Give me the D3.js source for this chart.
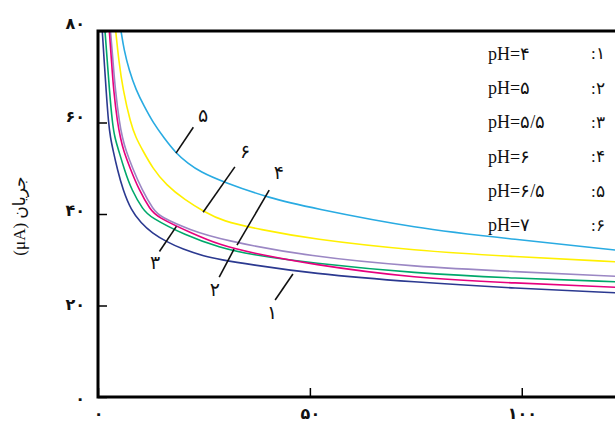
<!DOCTYPE html>
<html><head><meta charset="utf-8">
<script src="https://cdn.jsdelivr.net/npm/d3@7"></script>
<style>
html,body{margin:0;padding:0;background:#fff;}
svg{display:block;}
</style></head>
<body>
<svg id="chart" width="615" height="425"></svg>
<script>
// ---- data: [x, current µA] ----
const curve1 = [[1.01,80],[1.46,73.44],[1.91,67.10],[2.48,59.89],[2.95,56.61],[3.54,53.99],[4.60,49.62],[5.90,45.25],[7.79,40.87],[10.15,38.03],[12.74,35.85],[16.28,33.88],[19.83,32.35],[25.25,30.71],[28.79,30.05],[35.87,28.96],[50.04,27.04],[74.82,25.07],[98.42,23.76],[122.02,22.80]];
const curve2 = [[2.67,80],[3.19,73.44],[3.66,67.10],[4.60,59.89],[5.31,56.61],[5.97,53.99],[7.55,50.05],[9.68,45.25],[12.39,40.87],[13.85,39.41],[22.11,35.78],[28.79,33.22],[35.87,31.58],[50.04,29.03],[74.82,25.95],[98.42,24.92],[122.02,23.98]];
const curve3 = [[1.65,80],[2.19,73.44],[2.69,67.10],[3.38,59.89],[3.98,56.61],[4.84,53.99],[6.25,49.62],[7.91,45.25],[10.69,40.87],[12.27,39.34],[20.53,35.34],[28.79,32.63],[35.87,31.15],[50.04,29.29],[74.82,27.04],[98.42,25.95],[122.02,25.20]];
const curve4 = [[2.95,80],[3.54,73.44],[4.08,67.10],[5.07,59.89],[5.78,56.61],[6.54,53.99],[8.14,50.05],[10.38,45.25],[13.10,40.87],[14.63,39.41],[21.71,36.50],[29.27,34.32],[50.04,30.67],[74.82,28.48],[98.42,27.39],[122.02,26.38]];
const curve5 = [[5.43,80],[6.14,75.85],[7.32,71.48],[8.97,67.10],[10.86,63.61],[13.05,59.89],[15.58,56.61],[18.41,53.27],[21.24,51.04],[24.07,49.25],[29.50,47.00],[40.59,43.43],[50.04,41.42],[74.82,36.87],[98.42,34.47],[122.02,32.13]];
const curve6 = [[4.18,80],[4.91,73.44],[5.90,67.10],[7.67,59.89],[8.97,56.61],[10.50,53.99],[12.86,50.05],[16.05,46.34],[20.53,43.06],[25.02,40.50],[29.27,38.47],[38.23,36.61],[50.04,34.58],[74.82,31.98],[98.42,30.67],[122.02,29.57]];

const seriesIds = ["1","2","3","4","5","6"];
const seriesData = [curve1, curve2, curve3, curve4, curve5, curve6];
const seriesColors = ["#2b3990","#e6007e","#00a86b","#9b87c4","#29abe2","#fff000"];
const legendPH = ["pH=۴","pH=۵","pH=۵/۵","pH=۶","pH=۶/۵","pH=۷"];
const legendNum = [":۱",":۲",":۳",":۴",":۵",":۶"];
const curveLabels = ["۱","۲","۳","۴","۵","۶"];
// label text position and leader line (data units)
const labelPos = [[41.1,18.6],[27.6,23.6],[13.5,29.5],[42.7,49.0],[24.8,61.6],[34.7,53.6]];
const leaderFrom = [[46.0,26.9],[32.1,32.3],[18.5,37.3],[40.4,45.2],[18.4,53.3],[24.8,40.4]];
const leaderTo   = [[41.8,21.2],[28.6,26.2],[14.5,31.8],[32.8,33.2],[22.5,58.95],[32.3,50.3]];

const xTickValues = [0,50,100];
const xTickLabels = ["۰","۵۰","۱۰۰"];
const yTickValues = [0,20,40,60,80];
const yTickLabels = ["۰","۲۰","۴۰","۶۰","۸۰"];
const yTitle = "جریان (μA)";

// ---- layout ----
const svg = d3.select("#chart");
const pLeft = 98, pRight = 615, pTop = 31, pBottom = 397;
const x = d3.scaleLinear().domain([0,122]).range([pLeft,pRight]);
const y = d3.scaleLinear().domain([0,80]).range([pBottom,pTop]);
// the printed tick labels sit on a slightly taller, evenly spaced ladder
const yLab = d3.scaleLinear().domain([0,80]).range([398,23]);

svg.append("defs").append("clipPath").attr("id","plot")
  .append("rect").attr("x",pLeft).attr("y",pTop).attr("width",pRight-pLeft+10).attr("height",pBottom-pTop);

// curves
const line = d3.line().x(d=>x(d[0])).y(d=>y(d[1])).curve(d3.curveBasis);
const g = svg.append("g").attr("clip-path","url(#plot)");
[4,5,3,2,1,0].forEach(i=>{
  g.append("path").attr("d",line(seriesData[i]))
   .attr("fill","none").attr("stroke",seriesColors[i]).attr("stroke-width",1.6);
});

// leader lines and labels
seriesIds.forEach((id,i)=>{
  svg.append("line")
    .attr("x1",x(leaderFrom[i][0])).attr("y1",y(leaderFrom[i][1]))
    .attr("x2",x(leaderTo[i][0])).attr("y2",y(leaderTo[i][1]))
    .attr("stroke","#111").attr("stroke-width",1.6);
  svg.append("text").attr("x",x(labelPos[i][0])).attr("y",y(labelPos[i][1]))
    .attr("dy","0.35em").attr("text-anchor","middle")
    .attr("font-family","DejaVu Sans").attr("font-size",19).attr("fill","#111")
    .text(curveLabels[i]);
});

// axes
const yAxis = d3.axisLeft(y).tickValues(yTickValues).tickSize(-9).tickPadding(13)
  .tickFormat((d,i)=>yTickLabels[i]);
const ya = svg.append("g").attr("transform",`translate(${pLeft},0)`).call(yAxis);
ya.selectAll(".tick text").attr("y", d => yLab(d) - y(d));
const xAxis = d3.axisBottom(x).tickValues(xTickValues).tickSize(-9).tickPadding(11)
  .tickFormat((d,i)=>xTickLabels[i]);
const xa = svg.append("g").attr("transform",`translate(0,${pBottom})`).call(xAxis);
[ya,xa].forEach(a=>{
  a.select(".domain").remove();
  a.selectAll(".tick line").attr("stroke","#000").attr("stroke-width",1.5);
  a.selectAll(".tick text").attr("font-family","DejaVu Sans").attr("font-size",16)
    .attr("font-weight","bold").attr("fill","#111");
});
// frame lines (left, bottom, top)
svg.append("path")
  .attr("d",`M${pRight+5},${pTop}H${pLeft}V${pBottom}H${pRight+5}`)
  .attr("fill","none").attr("stroke","#000").attr("stroke-width",3);

// y title
svg.append("text").attr("transform","translate(25,216) rotate(-90)")
  .attr("text-anchor","middle").attr("direction","rtl")
  .attr("font-family","Liberation Serif, DejaVu Sans").attr("font-size",17).attr("fill","#111")
  .text(yTitle);

// legend
const lg = svg.append("g");
legendPH.forEach((t,i)=>{
  const yy = 53.5 + i*34.3;
  lg.append("text").attr("x",488).attr("y",yy).attr("dy","0.35em")
    .attr("font-family","Liberation Serif").attr("font-size",18).attr("fill","#111").text(t);
  lg.append("text").attr("x",591).attr("y",yy).attr("dy","0.35em")
    .attr("font-family","Liberation Serif").attr("font-size",17).attr("fill","#111").text(legendNum[i]);
});
</script>
</body></html>
